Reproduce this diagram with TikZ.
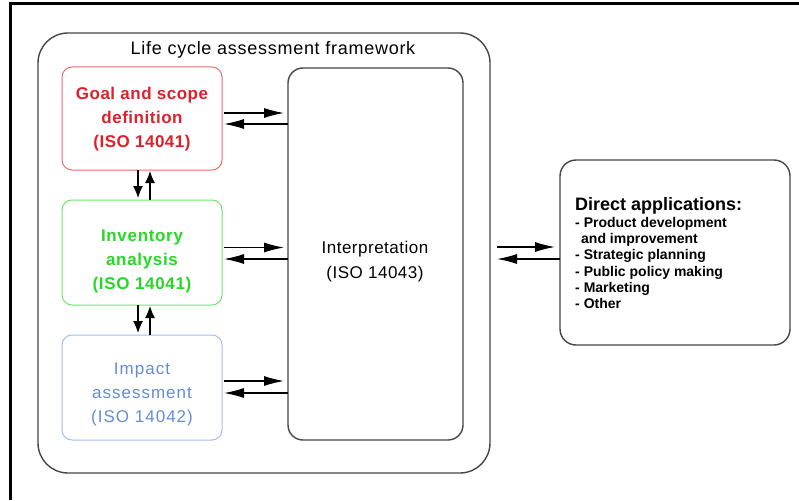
\documentclass[tikz,border=0pt]{standalone}
\usepackage{fontspec}
\setmainfont{Liberation Sans}
\usetikzlibrary{arrows.meta,calc}
\definecolor{redt}{RGB}{222,32,44}
\definecolor{redb}{RGB}{232,110,110}
\definecolor{greent}{RGB}{40,215,40}
\definecolor{greenb}{RGB}{110,230,110}
\definecolor{bluet}{RGB}{100,140,215}
\definecolor{blueb}{RGB}{165,190,232}
\definecolor{frameg}{RGB}{70,70,70}
\begin{document}
\begin{tikzpicture}[x=1pt,y=-1pt,
  graybox/.style={draw=frameg, line width=1.4pt, rounded corners=#1, inner sep=0pt, outer sep=0pt},
  cbox/.style={draw=#1, line width=1pt, rounded corners=10pt, inner sep=0pt, outer sep=0pt, minimum width=160pt},
  boxtext/.style={align=center, inner sep=0pt, font=\fontsize{17}{24}\selectfont\addfontfeatures{LetterSpace=#1}},
  boldtext/.style={align=center, inner sep=0pt, font=\bfseries\fontsize{17}{24}\selectfont\addfontfeatures{LetterSpace=#1}},
  arr/.style={-{Latex[length=20pt,width=10pt]}, line width=1.2pt},
  varr/.style={-{Latex[length=12pt,width=10pt]}, line width=1.2pt}
]
\useasboundingbox (0,0) rectangle (799,500);
\fill[white] (0,0) rectangle (799,500);
\draw[line width=3pt] (10.5,500) |- (799,4);

% outer framework
\node[graybox=30pt, minimum width=452pt, minimum height=440pt] (outer) at (264,253) {};
\node[font=\fontsize{18}{20}\selectfont\addfontfeatures{LetterSpace=4}, inner sep=0pt] (title) at (273,50) {Life cycle assessment framework};

% phase boxes
\node[cbox=redb, minimum height=103pt] (goal) at (142,118.5) {};
\node[boldtext=3, text=redt] (goaltxt) at (142,119) {Goal and scope\\definition\\(ISO 14041)};

\node[cbox=greenb, minimum height=105pt] (inv) at (142,252.5) {};
\node[boldtext=4, text=greent] (invtxt) at (142,261) {Inventory\\analysis\\(ISO 14041)};

\node[cbox=blueb, minimum height=105pt] (imp) at (142,387.5) {};
\node[boxtext=6, text=bluet] (imptxt) at (142,394) {Impact\\assessment\\(ISO 14042)};

\node[graybox=15pt, minimum width=175pt, minimum height=372pt] (interp) at (375.5,254) {};
\node[align=center, inner sep=0pt, font=\fontsize{17}{25}\selectfont\addfontfeatures{LetterSpace=3}] (interptxt) at (375,262) {Interpretation\\(ISO 14043)};

% direct applications
\node[graybox=16pt, minimum width=230pt, minimum height=185pt] (direct) at (675,252.5) {};
\node[anchor=north west, align=left, inner sep=0pt, font=\bfseries\fontsize{14}{16.2}\selectfont] (apps) at (575,197)
  {{\fontsize{18}{18}\selectfont Direct applications:}\\[1pt]
   - Product development\\
   \hspace*{6pt}and improvement\\
   - Strategic planning\\
   - Public policy making\\
   - Marketing\\
   - Other};

% horizontal arrows phases <-> interpretation
\draw[arr] ($(goal.east |- 0,113)+(2,0)$) -- ($(interp.west |- 0,113)+(-4,0)$);
\draw[arr] (interp.west |- 0,124) -- ($(goal.east |- 0,124)+(2,0)$);
\draw[arr] ($(inv.east |- 0,247.5)+(2,0)$) -- ($(interp.west |- 0,247.5)+(-4,0)$);
\draw[arr] (interp.west |- 0,259) -- ($(inv.east |- 0,259)+(2,0)$);
\draw[arr] ($(imp.east |- 0,381)+(2,0)$) -- ($(interp.west |- 0,381)+(-4,0)$);
\draw[arr] (interp.west |- 0,393) -- ($(imp.east |- 0,393)+(2,0)$);

% vertical arrows
\draw[varr] (goal.south -| 138,0) -- ($(inv.north -| 138,0)+(0,-2)$);
\draw[varr] (inv.north -| 150,0) -- ($(goal.south -| 150,0)+(0,1)$);
\draw[varr] (inv.south -| 138,0) -- ($(imp.north -| 138,0)+(0,-2)$);
\draw[varr] (imp.north -| 150,0) -- ($(inv.south -| 150,0)+(0,1)$);

% interpretation <-> direct applications
\draw[arr] ($(outer.east |- 0,247)+(7,0)$) -- ($(direct.west |- 0,247)+(-5,0)$);
\draw[arr] (direct.west |- 0,259) -- ($(outer.east |- 0,259)+(7,0)$);
\end{tikzpicture}
\end{document}
